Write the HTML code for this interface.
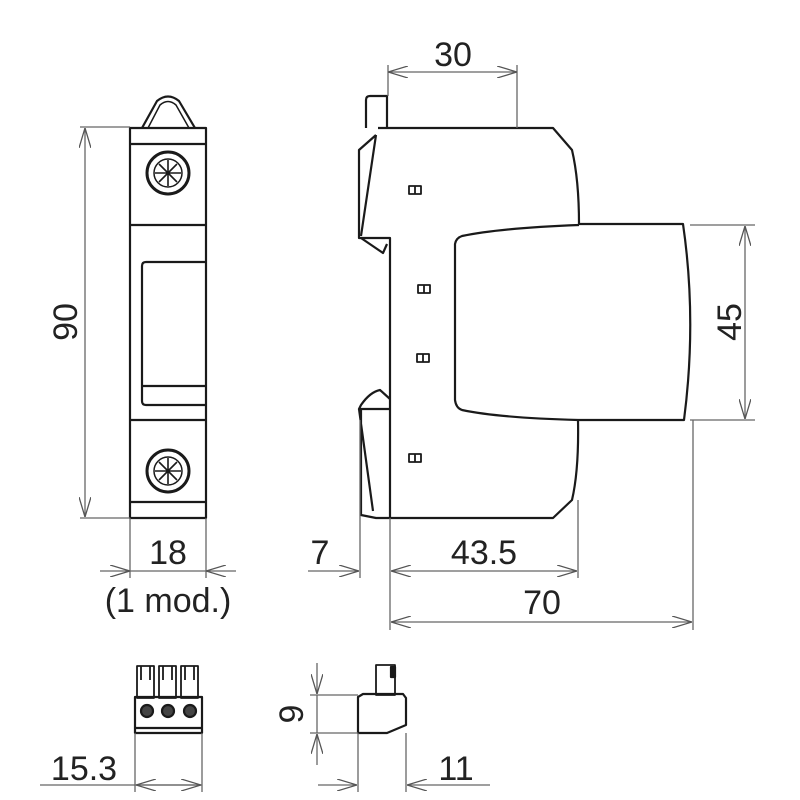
<!DOCTYPE html>
<html><head><meta charset="utf-8"><style>body{margin:0;background:#fff}svg{display:block}</style></head>
<body>
<svg width="800" height="800" viewBox="0 0 800 800" xmlns="http://www.w3.org/2000/svg" font-family="Liberation Sans, sans-serif">
<defs>
<marker id="a" viewBox="0 0 20 12" refX="20" refY="6" markerWidth="20" markerHeight="12" markerUnits="userSpaceOnUse" orient="auto"><path d="M0,0 L20,6 L0,12" fill="none" stroke="#555" stroke-width="1.3"/></marker>
</defs>
<g fill="none" stroke="#1a1a1a" stroke-width="2.2" stroke-linejoin="round">
<path d="M142,128 L157,101 Q168,92 179,101 L195,128"/>
<path d="M148,128 L160,105 Q168,98 176,105 L189,128" stroke-width="1.5"/>
<rect x="130" y="128" width="76" height="390"/>
<line x1="130" y1="144" x2="206" y2="144"/>
<line x1="130" y1="225" x2="206" y2="225"/>
<path d="M206,262 H146 Q142,262 142,266 V401 Q142,405 146,405 H206"/>
<line x1="142" y1="386" x2="206" y2="386"/>
<line x1="130" y1="420" x2="206" y2="420"/>
<line x1="130" y1="502" x2="206" y2="502"/>
<circle cx="168" cy="173" r="21" stroke-width="3"/>
<circle cx="168" cy="173" r="14" stroke-width="1.5"/>
<circle cx="168" cy="471" r="21" stroke-width="3"/>
<circle cx="168" cy="471" r="14" stroke-width="1.5"/>
<g stroke-width="1.6">
<path d="M168,160 V186 M155,173 H181 M159,164 L177,182 M177,164 L159,182"/>
<path d="M168,458 V484 M155,471 H181 M159,462 L177,480 M177,462 L159,480"/>
</g>
<path d="M366,128 V100 Q366,96 370,96 H387 V128"/>
<path d="M378,128 H553 L572,150 Q579,180 579,224"/>
<path d="M376,135 L359,150 V238 H390 V518"/>
<path d="M376,135 L361,236 M361,238 L383,253 L387,244"/>
<path d="M390,399 L380,390 Q370,392 361,405 L359,409 H390"/>
<path d="M359,409 L373,511 M361,409 V515 L376,518 H553 L572,500 Q579,470 578,420"/>
<path d="M579,224 L683,224 Q697,320 684,420 H578 Q500,418 462,410 Q456,408 455,400 V244 Q456,238 462,236 Q500,228 579,225"/>
<g stroke-width="1.8">
<rect x="409" y="186" width="12" height="8"/><line x1="415" y1="186" x2="415" y2="194"/>
<rect x="418" y="285" width="12" height="8"/><line x1="424" y1="285" x2="424" y2="293"/>
<rect x="417" y="354" width="12" height="8"/><line x1="423" y1="354" x2="423" y2="362"/>
<rect x="409" y="454" width="12" height="8"/><line x1="415" y1="454" x2="415" y2="462"/>
</g>
<g stroke-width="1.8">
<rect x="137" y="666" width="17" height="32"/><rect x="159" y="666" width="17" height="32"/><rect x="181" y="666" width="17" height="32"/>
<path d="M141,666 V680 M150,666 V680 M163,666 V680 M172,666 V680 M185,666 V680 M194,666 V680"/>
</g>
<rect x="135" y="697" width="67" height="36"/>
<line x1="135" y1="728" x2="202" y2="728"/>
<g fill="#444"><circle cx="147" cy="711" r="6"/><circle cx="168" cy="711" r="6"/><circle cx="190" cy="711" r="6"/></g>
<rect x="376" y="665" width="19" height="30" stroke-width="1.8"/>
<rect x="391" y="667" width="4" height="10" fill="#1a1a1a"/>
<path d="M358,733 V697 L363,694 H403 L406,698 V725 L387,733 Z"/>
</g>
<g stroke="#666" stroke-width="1.3" fill="none">
<path d="M80,127 H130 M80,518 H130"/>
<line x1="85" y1="322" x2="85" y2="128" marker-end="url(#a)"/>
<line x1="85" y1="322" x2="85" y2="517" marker-end="url(#a)"/>
<path d="M130,518 V578 M206,518 V578"/>
<line x1="100" y1="571" x2="130" y2="571" marker-end="url(#a)"/>
<line x1="236" y1="571" x2="206" y2="571" marker-end="url(#a)"/>
<line x1="130" y1="571" x2="206" y2="571"/>
<path d="M388,65 V96 M517,65 V128"/>
<line x1="452" y1="72" x2="388" y2="72" marker-end="url(#a)"/>
<line x1="452" y1="72" x2="517" y2="72" marker-end="url(#a)"/>
<path d="M690,225 H755 M690,420 H755"/>
<line x1="745" y1="322" x2="745" y2="226" marker-end="url(#a)"/>
<line x1="745" y1="322" x2="745" y2="419" marker-end="url(#a)"/>
<path d="M360,420 V578 M390,518 V630 M578,500 V578 M693,420 V630"/>
<line x1="308" y1="571" x2="359" y2="571" marker-end="url(#a)"/>
<line x1="484" y1="571" x2="391" y2="571" marker-end="url(#a)"/>
<line x1="484" y1="571" x2="577" y2="571" marker-end="url(#a)"/>
<line x1="540" y1="622" x2="391" y2="622" marker-end="url(#a)"/>
<line x1="540" y1="622" x2="692" y2="622" marker-end="url(#a)"/>
<path d="M135,733 V792 M202,733 V792"/>
<line x1="40" y1="785" x2="202" y2="785"/>
<line x1="168" y1="785" x2="136" y2="785" marker-end="url(#a)"/>
<line x1="168" y1="785" x2="201" y2="785" marker-end="url(#a)"/>
<path d="M310,695 H358 M310,733 H358"/>
<line x1="317" y1="663" x2="317" y2="694" marker-end="url(#a)"/>
<line x1="317" y1="765" x2="317" y2="734" marker-end="url(#a)"/>
<line x1="317" y1="695" x2="317" y2="733"/>
<path d="M358,733 V792 M406,733 V792"/>
<line x1="318" y1="785" x2="357" y2="785" marker-end="url(#a)"/>
<line x1="490" y1="785" x2="407" y2="785" marker-end="url(#a)"/>
</g>
<g fill="#222" font-size="34" text-anchor="middle">
<text x="168" y="564">18</text>
<text x="168" y="612">(1 mod.)</text>
<text transform="translate(77,322) rotate(-90)">90</text>
<text x="453" y="66">30</text>
<text transform="translate(741,322) rotate(-90)">45</text>
<text x="320" y="564">7</text>
<text x="484" y="564">43.5</text>
<text x="542" y="614">70</text>
<text x="84" y="780">15.3</text>
<text transform="translate(303,714) rotate(-90)">9</text>
<text x="456" y="780">11</text>
</g>
</svg>
</body></html>
